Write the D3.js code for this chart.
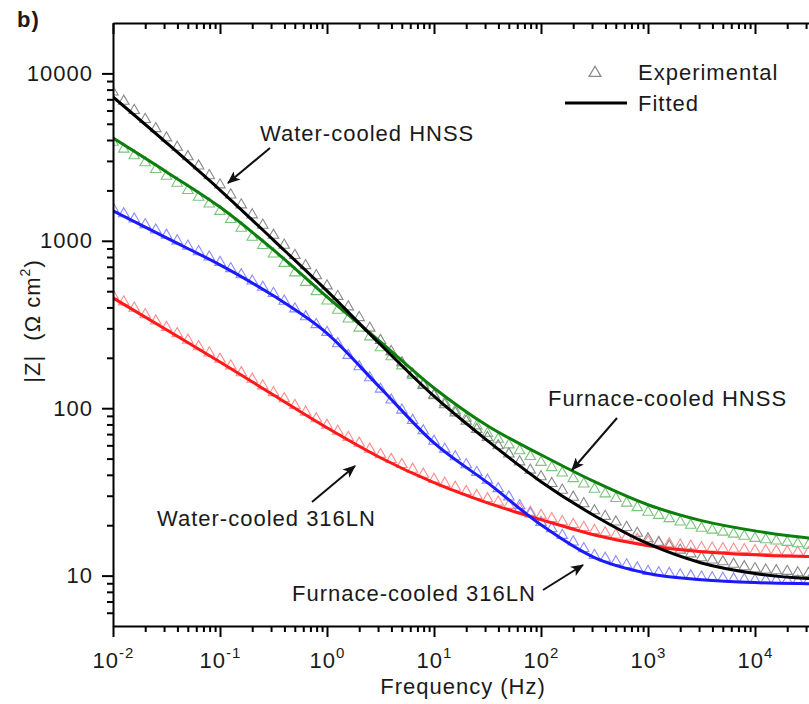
<!DOCTYPE html>
<html lang="en">
<head>
<meta charset="UTF-8">
<title>|Z| vs frequency</title>
<script src="https://cdn.jsdelivr.net/npm/d3@7"></script>
<style>
  body { margin: 0; background: #fff; }
  text { font-family: 'Liberation Sans', Arial, sans-serif; font-size: 22px; letter-spacing: 1px; fill: #1a1a1a; white-space: pre; }
  .axis path, .axis line { stroke: #000; stroke-width: 2; }
</style>
</head>
<body>
<div id="chart"></div>
<script>
// experimental frequencies (Hz), ten per decade
var freq = [0.01, 0.0126, 0.0158, 0.02, 0.0251, 0.0316, 0.0398, 0.0501, 0.0631, 0.0794,
  0.1, 0.126, 0.158, 0.2, 0.251, 0.316, 0.398, 0.501, 0.631, 0.794,
  1, 1.26, 1.58, 2, 2.51, 3.16, 3.98, 5.01, 6.31, 7.94,
  10, 12.6, 15.8, 20, 25.1, 31.6, 39.8, 50.1, 63.1, 79.4,
  100, 126, 158, 200, 251, 316, 398, 501, 631, 794,
  1000, 1260, 1580, 2000, 2510, 3160, 3980, 5010, 6310, 7940,
  10000, 12600, 15800, 20000, 25100, 31600];

// |Z| (ohm cm2), experimental
var expWaterHNSS = [7740, 6820, 6010, 5310, 4680, 4120, 3620, 3180, 2800, 2450,
  2160, 1880, 1640, 1430, 1240, 1080, 942, 818, 711, 619,
  538, 466, 403, 348, 301, 254, 218, 187, 160, 137,
  120, 105, 93.8, 83.8, 74.8, 66.8, 59.7, 53.3, 47.8, 42.7,
  39.0, 35.5, 32.4, 29.4, 26.9, 24.4, 22.6, 20.9, 19.4, 17.9,
  16.6, 15.8, 15.0, 14.2, 13.5, 12.8, 12.4, 12.1, 11.7, 11.3,
  11.0, 10.8, 10.7, 10.6, 10.4, 10.3];
var expFurnaceHNSS = [3880, 3530, 3220, 2930, 2670, 2430, 2210, 2000, 1820, 1660,
  1500, 1340, 1190, 1050, 938, 834, 733, 644, 565, 497,
  437, 385, 341, 301, 267, 230, 203, 179, 157, 139,
  119, 108, 96.8, 87.3, 78.5, 70.8, 65.3, 60.4, 55.7, 51.5,
  47.5, 44.2, 41.0, 38.0, 35.3, 32.8, 30.8, 28.9, 27.1, 25.5,
  23.9, 22.9, 21.9, 20.9, 20.0, 19.2, 18.7, 18.2, 17.7, 17.2,
  16.7, 16.4, 16.1, 15.8, 15.5, 15.2];
var expFurnace316 = [1560, 1450, 1350, 1250, 1160, 1080, 1000, 929, 861, 800,
  743, 682, 627, 575, 528, 485, 436, 392, 352, 316,
  284, 243, 207, 177, 152, 130, 112, 97.5, 84.5, 73.3,
  63.5, 57.0, 51.3, 46.0, 41.4, 37.2, 33.1, 29.5, 26.2, 23.4,
  20.8, 19.1, 17.4, 15.9, 14.5, 13.2, 12.7, 12.1, 11.6, 11.1,
  10.6, 10.4, 10.3, 10.1, 9.95, 9.79, 9.71, 9.64, 9.55, 9.48,
  9.40, 9.38, 9.35, 9.33, 9.29, 9.27];
var expWater316 = [472, 432, 396, 362, 332, 304, 279, 255, 233, 214,
  196, 179, 163, 149, 136, 124, 114, 104, 94.8, 86.5,
  79.1, 72.8, 67.0, 61.8, 56.9, 53.0, 49.4, 46.1, 43.2, 40.3,
  37.6, 35.6, 33.7, 31.8, 30.1, 28.8, 27.5, 26.3, 25.1, 23.9,
  22.9, 21.9, 21.0, 20.2, 19.4, 18.6, 18.0, 17.5, 17.0, 16.5,
  16.0, 15.7, 15.5, 15.2, 15.0, 14.7, 14.6, 14.5, 14.4, 14.3,
  14.1, 14.1, 14.0, 13.9, 13.8, 13.7];

// fitted curves, read every half decade
var fitFreq = [0.01, 0.0316, 0.1, 0.316, 1, 3.16, 10, 31.6, 100, 316, 1000, 3160, 10000, 31600, 100000];
var fitWaterHNSS = [7230, 3850, 2010, 1010, 502, 240, 118, 64, 36.4, 22.8, 15.5, 11.9, 10.3, 9.6, 9.4];
var fitFurnaceHNSS = [4110, 2580, 1590, 883, 462, 249, 132, 78.5, 52.7, 36.4, 26.5, 21.3, 18.5, 16.8, 16.2];
var fitFurnace316 = [1510, 1040, 718, 469, 280, 132, 62, 35.9, 20.1, 12.8, 10.3, 9.46, 9.08, 8.95, 8.9];
var fitWater316 = [456, 294, 189, 120, 76.4, 50.6, 35.9, 27.2, 21.6, 17.5, 15.1, 13.9, 13.3, 13.0, 12.9];

var xMajor = [0.01, 0.1, 1, 10, 100, 1000, 10000, 100000];
var xLabels = [0.01, 0.1, 1, 10, 100, 1000, 10000];
var yMajor = [10, 100, 1000, 10000];

var series = [
  {exp: expWater316, fit: fitWater316, line: "#ff1a1a", mark: "#ff8c8c"},
  {exp: expFurnace316, fit: fitFurnace316, line: "#1a1aff", mark: "#8c8cff"},
  {exp: expFurnaceHNSS, fit: fitFurnaceHNSS, line: "#0b7f0b", mark: "#7cc47c"},
  {exp: expWaterHNSS, fit: fitWaterHNSS, line: "#000000", mark: "#8a8a8a"}
];

var svg = d3.select("#chart").append("svg")
  .attr("width", 809)
  .attr("height", 704);

var x = d3.scaleLog().domain([0.01, 100000]).range([113, 862]);
var y = d3.scaleLog().domain([5, 20000]).range([626, 23]);

var defs = svg.append("defs");
defs.append("clipPath").attr("id", "plot").append("rect")
  .attr("x", 113).attr("y", 23).attr("width", 749).attr("height", 603);
defs.append("marker")
  .attr("id", "arrow")
  .attr("viewBox", "0 0 12 10")
  .attr("refX", 11).attr("refY", 5)
  .attr("markerWidth", 13).attr("markerHeight", 11)
  .attr("markerUnits", "userSpaceOnUse")
  .attr("orient", "auto")
  .append("path").attr("d", "M0,0L12,5L0,10L3,5z").attr("fill", "#111");

// minor ticks 2..9 in each decade
function minors(lo, hi) {
  var out = [];
  for (var p = lo; p < hi; p++) {
    for (var m = 2; m <= 9; m++) out.push(m * Math.pow(10, p));
  }
  return out;
}
var xMinor = minors(-2, 5);
var yMinor = minors(0, 4).filter(function(v) { return v > 5; });

var plot = svg.append("g").attr("clip-path", "url(#plot)");

// experimental points
series.forEach(function(s) {
  plot.append("g").selectAll("path")
    .data(freq)
    .enter().append("path")
    .attr("d", d3.symbol().type(d3.symbolTriangle).size(48))
    .attr("transform", function(f, i) { return "translate(" + x(f) + "," + y(s.exp[i]) + ")"; })
    .attr("fill", "none")
    .attr("stroke", s.mark)
    .attr("stroke-width", 1.1);
});

// fitted lines
var line = d3.line()
  .x(function(d) { return x(d[0]); })
  .y(function(d) { return y(d[1]); })
  .curve(d3.curveMonotoneX);

series.forEach(function(s) {
  plot.append("path")
    .datum(fitFreq.map(function(f, i) { return [f, s.fit[i]]; }))
    .attr("d", line)
    .attr("fill", "none")
    .attr("stroke", s.line)
    .attr("stroke-width", 3);
});

// axes
var bottomAx = svg.append("g").attr("class", "axis").attr("transform", "translate(0,626)");
bottomAx.call(d3.axisBottom(x).tickValues(xMajor).tickSize(11).tickSizeOuter(0).tickFormat(""));
bottomAx.append("g").call(d3.axisBottom(x).tickValues(xMinor).tickSize(6).tickSizeOuter(0).tickFormat(""))
  .select(".domain").remove();
bottomAx.selectAll(".tick").filter(function(d) { return xLabels.indexOf(d) >= 0; })
  .append("text")
  .attr("y", 42)
  .attr("text-anchor", "middle")
  .each(function(d) {
    var t = d3.select(this);
    t.append("tspan").text("10");
    t.append("tspan").attr("dy", -10).attr("font-size", 15).text(Math.round(Math.log10(d)));
  });

var topAx = svg.append("g").attr("class", "axis").attr("transform", "translate(0,23)");
topAx.call(d3.axisTop(x).tickValues(xMajor).tickSize(-11).tickSizeOuter(0).tickFormat(""));
topAx.append("g").call(d3.axisTop(x).tickValues(xMinor).tickSize(-6).tickSizeOuter(0).tickFormat(""))
  .select(".domain").remove();

var leftAx = svg.append("g").attr("class", "axis").attr("transform", "translate(113,0)");
leftAx.call(d3.axisLeft(y).tickValues(yMajor).tickSize(11).tickSizeOuter(0).tickPadding(9)
  .tickFormat(function(d) { return d; }));
leftAx.append("g").call(d3.axisLeft(y).tickValues(yMinor).tickSize(6).tickSizeOuter(0).tickFormat(""))
  .select(".domain").remove();
svg.selectAll(".axis").attr("font-size", null).attr("font-family", null);
svg.selectAll(".axis text").attr("fill", null);

// titles
svg.append("text").attr("x", 17).attr("y", 27).attr("font-weight", "bold").text("b)");

svg.append("text").attr("x", 463).attr("y", 694).attr("text-anchor", "middle").text("Frequency (Hz)");

var yt = svg.append("text").attr("transform", "translate(40,321) rotate(-90)").attr("text-anchor", "middle");
yt.append("tspan").text("|Z|  (\u03A9 cm");
yt.append("tspan").attr("dy", -10).attr("font-size", 14).text("2");
yt.append("tspan").attr("dy", 10).text(")");

// legend
svg.append("path")
  .attr("d", d3.symbol().type(d3.symbolTriangle).size(60))
  .attr("transform", "translate(595,73)")
  .attr("fill", "none").attr("stroke", "#8a8a8a").attr("stroke-width", 1.3);
svg.append("text").attr("x", 638).attr("y", 80).text("Experimental");
svg.append("line").attr("x1", 565).attr("x2", 627).attr("y1", 103).attr("y2", 103)
  .attr("stroke", "#000").attr("stroke-width", 3);
svg.append("text").attr("x", 638).attr("y", 111).text("Fitted");

// annotations
var notes = [
  {label: "Water-cooled HNSS", tx: 260, ty: 141, x1: 270, y1: 148, x2: 228, y2: 183},
  {label: "Furnace-cooled HNSS", tx: 548, ty: 406, x1: 617, y1: 418, x2: 572, y2: 470},
  {label: "Water-cooled 316LN", tx: 157, ty: 526, x1: 312, y1: 502, x2: 355, y2: 466},
  {label: "Furnace-cooled 316LN", tx: 292, ty: 601, x1: 543, y1: 590, x2: 583, y2: 565}
];
notes.forEach(function(n) {
  svg.append("text").attr("x", n.tx).attr("y", n.ty).text(n.label);
  svg.append("line")
    .attr("x1", n.x1).attr("y1", n.y1).attr("x2", n.x2).attr("y2", n.y2)
    .attr("stroke", "#111").attr("stroke-width", 2)
    .attr("marker-end", "url(#arrow)");
});
</script>
</body>
</html>
